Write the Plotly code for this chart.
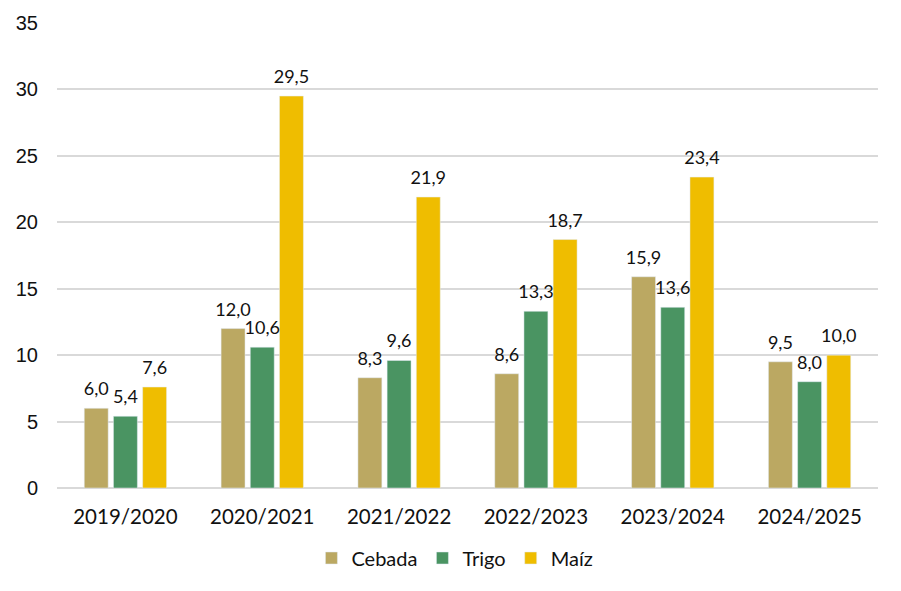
import plotly.graph_objects as go

categories = ["2019/2020", "2020/2021", "2021/2022", "2022/2023", "2023/2024", "2024/2025"]
cebada = [6.0, 12.0, 8.3, 8.6, 15.9, 9.5]
trigo = [5.4, 10.6, 9.6, 13.3, 13.6, 8.0]
maiz = [7.6, 29.5, 21.9, 18.7, 23.4, 10.0]
y_ticks = [0, 5, 10, 15, 20, 25, 30, 35]

series = [("Cebada", cebada, "#BBA862"), ("Trigo", trigo, "#4A9462"), ("Maíz", maiz, "#EFBD00")]

fig = go.Figure()
for i, (name, vals, color) in enumerate(series):
    fig.add_trace(go.Bar(
        x=categories, y=vals, name=name, marker_color=color, offsetgroup=str(i),
    ))
for i, (name, vals, color) in enumerate(series):
    fig.add_trace(go.Scatter(
        x=categories, y=vals, mode="markers+text", offsetgroup=str(i), showlegend=False,
        texttemplate="%{y:.1f}", textposition="top center", cliponaxis=False,
        marker=dict(size=12, opacity=0), hoverinfo="skip",
        textfont=dict(family="Lato", size=18, color="#111111"),
    ))

fig.update_layout(
    width=885, height=575,
    margin=dict(l=49, r=15, t=15, b=95, autoexpand=False),
    plot_bgcolor="white", paper_bgcolor="white",
    barmode="group", bargap=0.36, bargroupgap=0.18,
    scattermode="group", scattergap=0.36,
    separators=",.",
    font=dict(family="Lato", color="#111111"),
    legend=dict(orientation="h", xref="container", x=0.505, xanchor="center",
                yref="container", y=0.0435, yanchor="middle",
                font=dict(family="Lato", size=20, color="#111111"),
                itemwidth=30, traceorder="normal"),
    xaxis=dict(tickfont=dict(family="Lato", size=20.5, color="#111111"), showline=False, ticks="",
               automargin=False, ticklabelstandoff=14),
    yaxis=dict(range=[0, 35], tickvals=y_ticks, showgrid=True, gridcolor="#D9D9D9", gridwidth=2,
               zeroline=True, zerolinecolor="#D9D9D9", zerolinewidth=2,
               tickfont=dict(family="Liberation Sans", size=20, color="#111111"), ticks="",
               ticklabelstandoff=18, automargin=False),
)

fig.write_html("out.html")
